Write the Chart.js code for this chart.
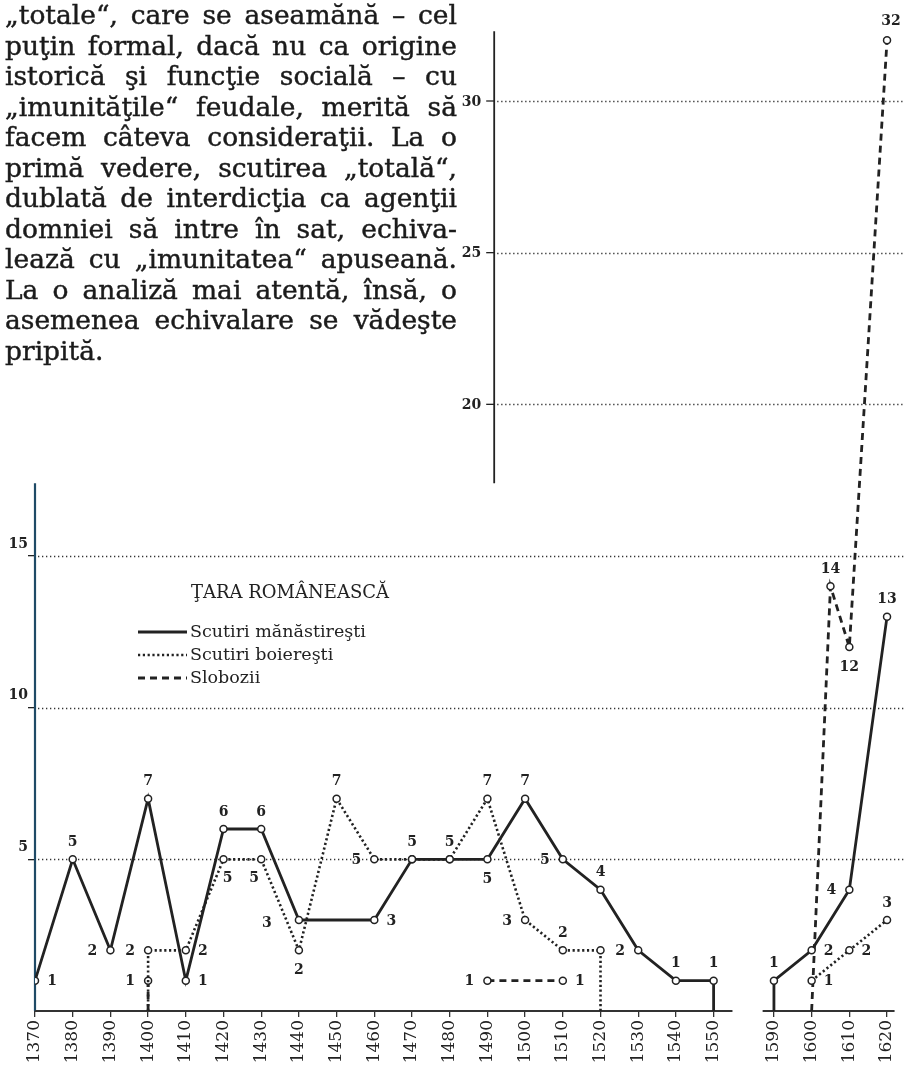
<!DOCTYPE html>
<html><head><meta charset="utf-8">
<script src="https://cdn.jsdelivr.net/npm/chart.js@4"></script>
<style>
html,body{margin:0;padding:0;background:#fff;}
#wrap{position:relative;width:909px;height:1067px;overflow:hidden;}
#c{position:absolute;left:0;top:0;width:909px;height:1067px;}
#para{position:absolute;left:5px;top:0;width:452px;font-family:"DejaVu Serif",serif;font-size:26.5px;line-height:30.5px;color:#1b1b1b;-webkit-text-stroke:0.45px #1b1b1b;}
#para div{text-align:justify;text-align-last:justify;white-space:nowrap;}
#para div.last{text-align-last:left;}
</style></head><body>
<div id="wrap">
<canvas id="c" width="909" height="1067"></canvas>
<div id="para">
<div>„totale“, care se aseamănă – cel</div>
<div>puţin formal, dacă nu ca origine</div>
<div>istorică şi funcţie socială – cu</div>
<div>„imunităţile“ feudale, merită să</div>
<div>facem câteva consideraţii. La o</div>
<div>primă vedere, scutirea „totală“,</div>
<div>dublată de interdicţia ca agenţii</div>
<div>domniei să intre în sat, echiva-</div>
<div>lează cu „imunitatea“ apuseană.</div>
<div>La o analiză mai atentă, însă, o</div>
<div>asemenea echivalare se vădeşte</div>
<div class="last">pripită.</div>
</div>
</div>
<script>
// ---- data ----
const xTickYears = [1370,1380,1390,1400,1410,1420,1430,1440,1450,1460,1470,1480,1490,1500,1510,1520,1530,1540,1550,1590,1600,1610,1620];
const yTicksLower = [5,10,15];
const yTicksUpper = [20,25,30];

const monYears  = [1370,1380,1390,1400,1410,1420,1430,1440,1460,1470,1480,1490,1500,1510,1520,1530,1540,1550,1550,1570,1590,1590,1600,1610,1620];
const monValues = [1,5,2,7,1,6,6,3,3,5,5,5,7,5,4,2,1,1,0,null,0,1,2,4,13];
const monLabelPos = ['r','t','l','t','r','t','t','L','r','t','t','b','t','l','t','l','t','t',null,null,null,'t','r','l','t'];

const boyYears  = [1400,1400,1410,1420,1430,1440,1450,1460,1470,1480,1490,1500,1510,1520,1520,1570,1600,1610,1620];
const boyValues = [0,2,2,5,5,2,7,5,5,5,7,3,2,2,0,null,1,2,3];
const boyLabelPos = [null,'l','r','br','bl','b','t','l',null,null,'t','l','t',null,null,null,'r','r','t'];

const sloYears  = [1400,1400,1450,1490,1510,1550,1600,1605,1610,1620];
const sloValues = [0,1,null,1,1,null,0,14,12,32];
const sloLabelPos = [null,'l',null,'l','r',null,null,'t','b','tr'];

const seriesNames = ['Scutiri mănăstireşti','Scutiri boiereşti','Slobozii'];
const legendTitle = 'ŢARA ROMÂNEASCĂ';

// broken x axis: years after the gap are shifted left
const GAP_START = 1560, GAP_SHIFT = 24;
const pos = y => (y > GAP_START ? y - GAP_SHIFT : y);
const toXY = (ys, vs) => ys.map((y, i) => ({x: pos(y), y: vs[i]}));

const INK = '#222';
const SERIF = '"DejaVu Serif", serif';

const labelOff = {
  t:[0,-17], b:[0,20], l:[-18,1], r:[17,1], L:[-32,3], br:[4,19], bl:[-7,19], tr:[4,-19]
};

const decor = {
  id:'decor',
  beforeDatasetsDraw(chart){
    const {ctx, chartArea:a, scales:{x, y}} = chart;
    ctx.save();
    // dotted grid lines
    ctx.strokeStyle = '#333'; ctx.lineWidth = 1.3; ctx.setLineDash([1.3,2.7]);
    yTicksLower.forEach(v => { const py = Math.round(y.getPixelForValue(v))+0.5; ctx.beginPath(); ctx.moveTo(a.left+3, py); ctx.lineTo(a.right, py); ctx.stroke(); });
    const upX = x.getPixelForValue(pos(1491.8));
    yTicksUpper.forEach(v => { const py = Math.round(y.getPixelForValue(v))+0.5; ctx.beginPath(); ctx.moveTo(upX+3, py); ctx.lineTo(a.right, py); ctx.stroke(); });
    ctx.setLineDash([]);
    // left axis (lower part)
    const breakY = y.getPixelForValue(17.4);
    ctx.strokeStyle = '#1f4a66'; ctx.lineWidth = 2.2;
    ctx.beginPath(); ctx.moveTo(a.left, a.bottom); ctx.lineTo(a.left, breakY); ctx.stroke();
    // upper axis
    ctx.strokeStyle = INK; ctx.lineWidth = 1.8;
    ctx.beginPath(); ctx.moveTo(upX, breakY); ctx.lineTo(upX, y.getPixelForValue(32.3)); ctx.stroke();
    // upper ticks + labels
    ctx.lineWidth = 1.3; ctx.fillStyle = INK; ctx.font = 'bold 14px ' + SERIF;
    ctx.textAlign = 'right'; ctx.textBaseline = 'middle';
    yTicksUpper.forEach(v => { const py = y.getPixelForValue(v);
      ctx.beginPath(); ctx.moveTo(upX-8, py); ctx.lineTo(upX, py); ctx.stroke();
      ctx.fillText(String(v), upX-13, py+1); });
    // baseline segments
    ctx.strokeStyle = '#333'; ctx.lineWidth = 2;
    [[1370,1555],[1587,1622]].forEach(([s,e]) => {
      ctx.beginPath(); ctx.moveTo(x.getPixelForValue(pos(s)), a.bottom); ctx.lineTo(x.getPixelForValue(pos(e)), a.bottom); ctx.stroke();
    });
    ctx.restore();
  },
  afterDatasetsDraw(chart){
    const {ctx, scales:{x, y}} = chart;
    ctx.save();
    ctx.fillStyle = INK; ctx.font = 'bold 14px ' + SERIF;
    ctx.textAlign = 'center'; ctx.textBaseline = 'middle';
    const sets = [[monYears,monValues,monLabelPos],[boyYears,boyValues,boyLabelPos],[sloYears,sloValues,sloLabelPos]];
    sets.forEach(([ys,vs,lp]) => ys.forEach((yr,i) => {
      const p = lp[i]; if (!p || vs[i] == null) return;
      const [dx,dy] = labelOff[p];
      ctx.fillText(String(vs[i]), x.getPixelForValue(pos(yr))+dx, y.getPixelForValue(vs[i])+dy);
    }));
    // legend
    ctx.textAlign = 'left';
    ctx.font = '18px ' + SERIF;
    ctx.fillText(legendTitle, 191, 593);
    ctx.font = '17.5px ' + SERIF;
    chart.data.datasets.forEach((ds, i) => {
      const ly = 632 + i*23;
      ctx.strokeStyle = ds.borderColor; ctx.lineWidth = ds.borderWidth;
      ctx.setLineDash(ds.borderDash || []);
      ctx.beginPath(); ctx.moveTo(138, ly); ctx.lineTo(187, ly); ctx.stroke();
      ctx.setLineDash([]);
      ctx.fillText(seriesNames[i], 190, ly);
    });
    ctx.restore();
  }
};

const pointStyle = {
  pointRadius: c => (c.raw && c.raw.y) ? 3.5 : 0,
  pointHoverRadius: c => (c.raw && c.raw.y) ? 3.5 : 0,
  pointBackgroundColor:'#fff', pointBorderColor:INK, pointBorderWidth:1.5
};

new Chart(document.getElementById('c'), {
  type:'line',
  data:{ datasets:[
    Object.assign({label:seriesNames[0], data:toXY(monYears,monValues), borderColor:INK, borderWidth:2.8, borderDash:[]}, pointStyle),
    Object.assign({label:seriesNames[1], data:toXY(boyYears,boyValues), borderColor:INK, borderWidth:2.6, borderDash:[2.2,2.6]}, pointStyle),
    Object.assign({label:seriesNames[2], data:toXY(sloYears,sloValues), borderColor:INK, borderWidth:2.8, borderDash:[7,5]}, pointStyle)
  ]},
  options:{
    responsive:false, animation:false, devicePixelRatio:1,
    layout:{padding:{top:10,right:0,left:0,bottom:0}},
    plugins:{legend:{display:false}, tooltip:{enabled:false}},
    elements:{line:{tension:0, borderCapStyle:'butt'}},
    scales:{
      x:{ type:'linear', min:1370, max:1600.5,
        afterBuildTicks:s => { s.ticks = xTickYears.map(v => ({value:pos(v)})); },
        afterFit:s => { s.height = 56; s.paddingLeft = 0; s.paddingRight = 0; },
        ticks:{ autoSkip:false, minRotation:90, maxRotation:90, padding:3, color:INK,
          font:{family:'"DejaVu Serif", serif', size:17},
          callback:(v,i) => String(xTickYears[i]) },
        grid:{ drawOnChartArea:false, drawTicks:true, tickLength:6, color:'#333', lineWidth:1.3 },
        border:{display:false}
      },
      y:{ type:'linear', min:0, max:33,
        afterBuildTicks:s => { s.ticks = yTicksLower.map(v => ({value:v})); },
        afterFit:s => { s.width = 35; s.paddingTop = 0; s.paddingBottom = 0; },
        ticks:{ padding:0, labelOffset:-12, color:INK, font:{family:'"DejaVu Serif", serif', size:14, weight:'bold'} },
        grid:{ drawOnChartArea:false, drawTicks:true, tickLength:7, color:INK, lineWidth:1.3 },
        border:{display:false}
      }
    }
  },
  plugins:[decor]
});
</script>
</body></html>
